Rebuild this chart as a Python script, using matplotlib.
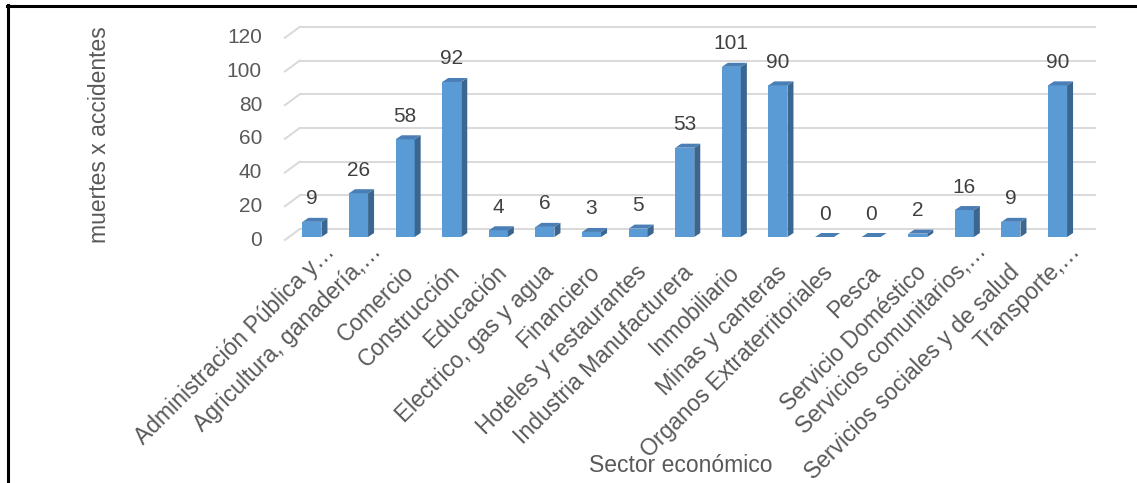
import matplotlib
matplotlib.use('Agg')
import matplotlib.pyplot as plt
import matplotlib.transforms as mtransforms
from matplotlib.patches import Polygon
from matplotlib.lines import Line2D

plt.rcParams['font.family'] = ['Liberation Sans', 'DejaVu Sans']

# Fatal accidents by economic sector
sectors = [
    'Administración Pública y…',
    'Agricultura, ganadería,…',
    'Comercio',
    'Construcción',
    'Educación',
    'Electrico, gas y agua',
    'Financiero',
    'Hoteles y restaurantes',
    'Industria Manufacturera',
    'Inmobiliario',
    'Minas y canteras',
    'Organos Extraterritoriales',
    'Pesca',
    'Servicio Doméstico',
    'Servicios comunitarios,…',
    'Servicios sociales y de salud',
    'Transporte,…',
]
deaths = [9, 26, 58, 92, 4, 6, 3, 5, 53, 101, 90, 0, 0, 2, 16, 9, 90]
y_ticks = [0, 20, 40, 60, 80, 100, 120]

TEXT = '#595959'
FRONT = '#5B9BD5'
SIDE = '#3A6690'
TOP = '#4A7EB5'
GRID = '#D9D9D9'

W, H = 1137, 483
fig = plt.figure(figsize=(W / 100, H / 100), dpi=100)

# axes box in pixels (front plane of the bars)
ax_left, ax_right = 284.0, 1099.5
ax_top, ax_bottom = 34.8, 237.0
ax = fig.add_axes([ax_left / W, (H - ax_bottom) / H,
                   (ax_right - ax_left) / W, (ax_bottom - ax_top) / H])
ax.set_xlim(-0.6, 16.9)
ax.set_ylim(0, 120)
ax.set_xticks([])
ax.set_yticks([])
ax.patch.set_alpha(0)
for s in ax.spines.values():
    s.set_visible(False)

# pixels per data unit
ux = (ax_right - ax_left) / 17.5
uy = (ax_bottom - ax_top) / 120


def px_shift(dx, dy):
    return mtransforms.ScaledTranslation(dx / 100, dy / 100, fig.dpi_scale_trans)


# back wall gridlines plus the slanted floor edge
x0, x1 = -0.26, 16.8
for v in y_ticks:
    yb = v + 8 / uy
    ax.plot([x0, x1], [yb, yb], color=GRID, lw=1.4, clip_on=False, zorder=0)
    ax.plot([x0 - 15 / ux, x0], [v - 3 / uy, yb], color=GRID, lw=1.4,
            clip_on=False, zorder=0)
    ax.text(0, v, str(v), transform=ax.get_yaxis_transform() + px_shift(-22, -3),
            ha='right', va='center', fontsize=15, color=TEXT)

# 3D-looking columns
w = 19 / ux
ddx, ddy = 6 / ux, 4 / uy
xs = list(range(len(deaths)))
ax.bar(xs, deaths, width=w, color=FRONT, zorder=3)
for x, v in zip(xs, deaths):
    l, r = x - w / 2, x + w / 2
    side = Polygon([(r, 0), (r, v), (r + ddx, v + ddy), (r + ddx, ddy)],
                   closed=True, facecolor=SIDE, edgecolor='none', zorder=3)
    top = Polygon([(l, v), (r, v), (r + ddx, v + ddy), (l + ddx, v + ddy)],
                  closed=True, facecolor=TOP, edgecolor='none', zorder=3)
    ax.add_patch(side)
    ax.add_patch(top)
    ax.annotate(str(v), (x, v), xytext=(0, 23 * 0.72), textcoords='offset points',
                ha='center', va='center', fontsize=15, color='#404040')

# category labels
for x, name in zip(xs, sectors):
    dx, dy = 5, -32
    if name.endswith('…'):
        dx, dy = 19, -11
    ax.text(x, 0, name, transform=ax.get_xaxis_transform() + px_shift(dx, dy),
            rotation=45, rotation_mode='anchor', ha='right', va='center',
            fontsize=16.5, color=TEXT)

fig.text(100 / W, (H - 134.5) / H, 'muertes x accidentes', rotation=90,
         ha='center', va='center', fontsize=16.5, color=TEXT)
fig.text(681 / W, (H - 472) / H, 'Sector económico', ha='center',
         va='baseline', fontsize=16.5, color=TEXT)

# frame around the chart
fig.add_artist(Line2D([8 / W, 8 / W], [0, (H - 5) / H], transform=fig.transFigure,
                      color='black', lw=2.2))
fig.add_artist(Line2D([7 / W, 1], [(H - 6) / H, (H - 6) / H], transform=fig.transFigure,
                      color='black', lw=2.2))

fig.savefig('out.png', dpi=100)
